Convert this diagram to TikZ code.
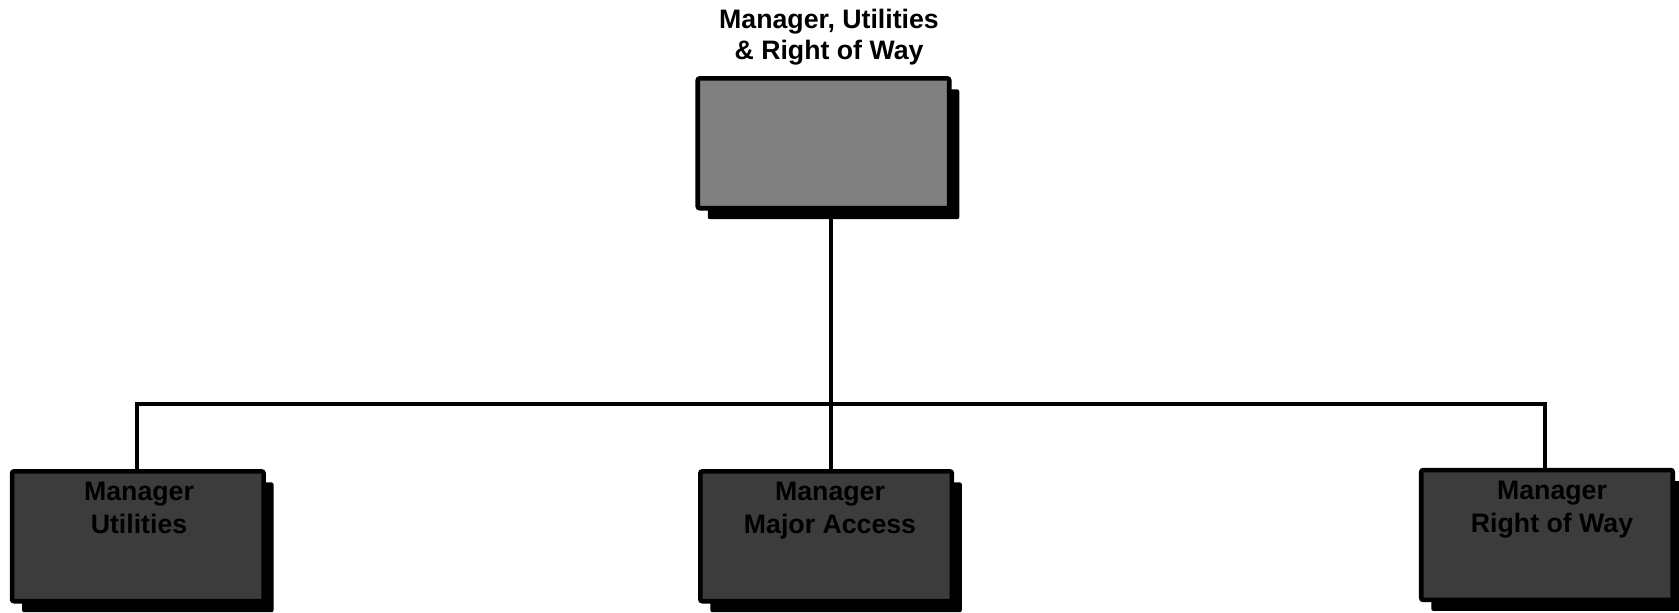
\documentclass[tikz,border=0pt]{standalone}
\usepackage{fontspec}
\setmainfont{Liberation Sans}
\usetikzlibrary{shadows}
\definecolor{headfill}{RGB}{128,128,128}
\definecolor{unitfill}{RGB}{60,60,60}
\tikzset{
  orgbox/.style={draw=black, line width=4.6pt, rounded corners=2pt, inner sep=0pt,
    minimum width=251.5pt, minimum height=129.8pt,
    drop shadow={shadow xshift=10pt, shadow yshift=-11pt, fill=black, opacity=1}},
  headbox/.style={orgbox, fill=headfill},
  unitbox/.style={orgbox, fill=unitfill},
  conn/.style={draw=black, line width=4pt, line join=miter},
  title/.style={font=\bfseries\fontsize{26.7}{30.5}\selectfont, align=center, inner sep=0pt, anchor=base},
  unitlabel/.style={font=\bfseries\fontsize{26.7}{32.6}\selectfont, align=center, inner sep=0pt, anchor=base}
}
\begin{document}
\begin{tikzpicture}[x=1pt, y=-1pt]
\useasboundingbox (0,0) rectangle (1679,613);

% boxes
\node[headbox] (head) at (823.5,143.3) {};
\node[unitbox] (util) at (137.8,536.3) {};
\node[unitbox] (major) at (826.1,536.3) {};
\node[unitbox] (row) at (1547.0,535.0) {};

% bus line junctions
\coordinate (busL) at (136.5,404.3);
\coordinate (busM) at (830.8,404.3);
\coordinate (busR) at (1545.3,404.3);

% connectors
\draw[conn] (head.south -| busM) -- (major.north -| busM);
\draw[conn] (util.north -| busL) -- (busL) -- (busR) -- (row.north -| busR);

% labels (anchored at the baseline of the last line)
\node[title] (headlbl) at (829,59) {Manager, Utilities\\\& Right of Way};
\node[unitlabel] (utillbl) at (139,533.5) {Manager\\Utilities};
\node[unitlabel] (majorlbl) at (830,533.5) {Manager\\Major Access};
\node[unitlabel] (rowlbl) at (1552,532.2) {Manager\\Right of Way};
\end{tikzpicture}
\end{document}
